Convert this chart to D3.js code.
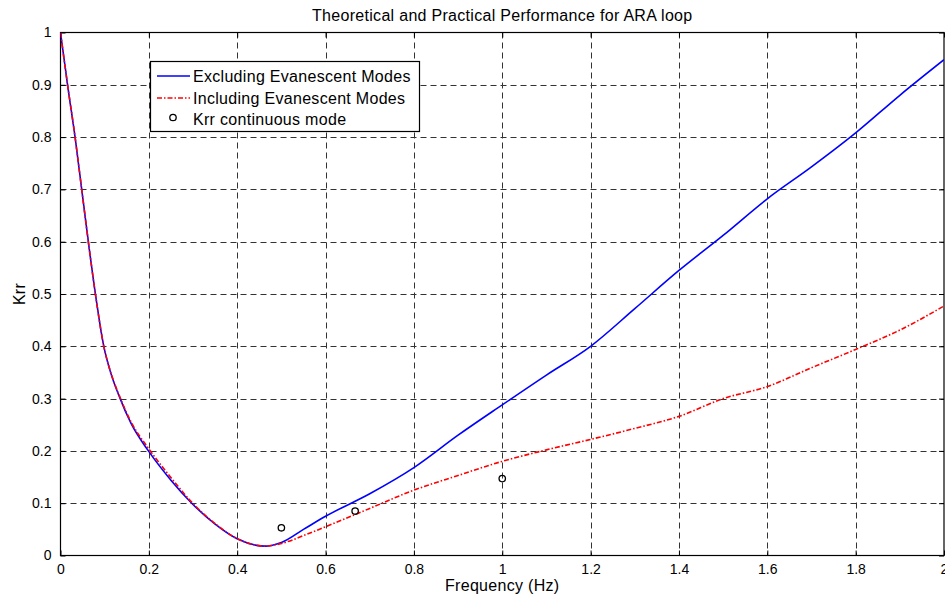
<!DOCTYPE html>
<html>
<head>
<meta charset="utf-8">
<script src="https://cdn.jsdelivr.net/npm/d3@7.9.0/dist/d3.min.js"></script>
<style>
  body { margin: 0; background: #fff; }
  svg { display: block; font-family: "Liberation Sans", Arial, sans-serif; }
  .lbl { font-size: 16px; letter-spacing: 0.3px; }
</style>
</head>
<body>
<svg id="chart" width="945" height="598"></svg>
<script>
// Data
const freqs = [0, 0.016, 0.033, 0.048, 0.063, 0.079, 0.098, 0.112, 0.135, 0.16, 0.199, 0.25, 0.297,
  0.35, 0.4, 0.463, 0.5, 0.55, 0.6, 0.7, 0.8, 0.9, 1.0, 1.1, 1.2, 1.3, 1.4, 1.5,
  1.6, 1.7, 1.8, 1.9, 2.0];
const excluding = [1.0, 0.9, 0.8, 0.7, 0.6, 0.5, 0.4, 0.354, 0.3, 0.252, 0.2, 0.144, 0.1,
  0.06, 0.032, 0.018, 0.025, 0.05, 0.075, 0.118, 0.168, 0.23, 0.288, 0.345, 0.4, 0.472, 0.545, 0.612,
  0.682, 0.743, 0.808, 0.88, 0.948];
const including = [1.0, 0.9, 0.8, 0.7, 0.6, 0.5, 0.4, 0.355, 0.302, 0.255, 0.205, 0.149, 0.102,
  0.061, 0.032, 0.018, 0.023, 0.038, 0.055, 0.09, 0.125, 0.153, 0.18, 0.202, 0.222, 0.243, 0.266, 0.3,
  0.323, 0.359, 0.394, 0.431, 0.477];
const measuredFreq = [0.5, 0.667, 1.0];
const measuredKrr = [0.053, 0.085, 0.147];
const xTicks = [0, 0.2, 0.4, 0.6, 0.8, 1, 1.2, 1.4, 1.6, 1.8, 2];
const yTicks = [0, 0.1, 0.2, 0.3, 0.4, 0.5, 0.6, 0.7, 0.8, 0.9, 1];
const legendLabels = ['Excluding Evanescent Modes', 'Including Evanescent Modes', 'Krr continuous mode'];

const svg = d3.select('#chart');
const pl = 60.5, pr = 944, pt = 32.5, pb = 555.5;

let x = d3.scaleLinear().domain([0, 2]).range([pl, pr]);
let y = d3.scaleLinear().domain([0, 1]).range([pb, pt]);

// grid
const grid = svg.append('g');
xTicks.slice(1, -1).forEach((t) => {
  grid.append('line')
    .attr('x1', Math.round(x(t)) + 0.5).attr('x2', Math.round(x(t)) + 0.5)
    .attr('y1', pt).attr('y2', pb)
    .attr('stroke', '#333').attr('stroke-dasharray', '6,4');
});
yTicks.slice(1, -1).forEach((t) => {
  grid.append('line')
    .attr('y1', Math.round(y(t)) + 0.5).attr('y2', Math.round(y(t)) + 0.5)
    .attr('x1', pl).attr('x2', pr)
    .attr('stroke', '#333').attr('stroke-dasharray', '6,4');
});

// axes
const fmt = d3.format('~g');
function styleAxis(g) {
  g.select('.domain').remove();
  g.selectAll('.tick line').attr('stroke', '#000');
  g.selectAll('.tick text').attr('fill', '#000').attr('font-size', 14)
    .attr('font-family', '"Liberation Sans", Arial, sans-serif');
}
svg.append('g').attr('transform', `translate(0,${pb})`)
  .call(d3.axisBottom(x).tickValues(xTicks).tickFormat(fmt).tickSizeInner(-5).tickPadding(9))
  .call(styleAxis);
svg.append('g').attr('transform', `translate(0,${pt})`)
  .call(d3.axisTop(x).tickValues(xTicks).tickFormat('').tickSizeInner(-5))
  .call(styleAxis);
svg.append('g').attr('transform', `translate(${pl},0)`)
  .call(d3.axisLeft(y).tickValues(yTicks).tickFormat(fmt).tickSizeInner(-5).tickPadding(9))
  .call(styleAxis);
svg.append('g').attr('transform', `translate(${pr},0)`)
  .call(d3.axisRight(y).tickValues(yTicks).tickFormat('').tickSizeInner(-5))
  .call(styleAxis);

svg.append('rect')
  .attr('x', pl).attr('y', pt)
  .attr('width', pr - pl).attr('height', pb - pt)
  .attr('fill', 'none').attr('stroke', '#000').attr('stroke-width', 1.2);

// curves
const clip = svg.append('clipPath').attr('id', 'plotclip');
clip.append('rect').attr('x', pl).attr('y', pt).attr('width', pr - pl).attr('height', pb - pt);

let line = d3.line().curve(d3.curveMonotoneX);
let blueData = freqs.map((f, i) => [x(f), y(excluding[i])]);
let redData = freqs.map((f, i) => [x(f), y(including[i])]);

svg.append('path').attr('d', line(blueData))
  .attr('fill', 'none').attr('stroke', '#0000ff').attr('stroke-width', 1.6)
  .attr('clip-path', 'url(#plotclip)');
svg.append('path').attr('d', line(redData))
  .attr('fill', 'none').attr('stroke', '#ff0000').attr('stroke-width', 1.6)
  .attr('stroke-dasharray', '5,2,1.5,2')
  .attr('clip-path', 'url(#plotclip)');

measuredFreq.forEach((f, i) => {
  svg.append('circle')
    .attr('cx', x(f)).attr('cy', y(measuredKrr[i])).attr('r', 3.2)
    .attr('fill', 'none').attr('stroke', '#000').attr('stroke-width', 1.3);
});

// legend
const lg = svg.append('g');
lg.append('rect').attr('x', 150.5).attr('y', 61.5).attr('width', 269).attr('height', 70)
  .attr('fill', '#fff').attr('stroke', '#000').attr('stroke-width', 1.2);
const rowsY = [76, 98, 119];
lg.append('line').attr('x1', 157).attr('x2', 190).attr('y1', rowsY[0]).attr('y2', rowsY[0])
  .attr('stroke', '#0000ff').attr('stroke-width', 1.6);
lg.append('line').attr('x1', 157).attr('x2', 190).attr('y1', rowsY[1]).attr('y2', rowsY[1])
  .attr('stroke', '#ff0000').attr('stroke-width', 1.6).attr('stroke-dasharray', '5,2,1.5,2');
lg.append('circle').attr('cx', 173).attr('cy', rowsY[2] - 1.5).attr('r', 3.2)
  .attr('fill', 'none').attr('stroke', '#000').attr('stroke-width', 1.3);
legendLabels.forEach((t, i) => {
  lg.append('text').attr('class', 'lbl').attr('x', 193).attr('y', rowsY[i] + 5.5).text(t);
});

// titles
svg.append('text').attr('class', 'lbl').attr('x', (pl + pr) / 2).attr('y', 21)
  .attr('text-anchor', 'middle')
  .text('Theoretical and Practical Performance for ARA loop');
svg.append('text').attr('class', 'lbl').attr('x', (pl + pr) / 2).attr('y', 591)
  .attr('text-anchor', 'middle')
  .text('Frequency (Hz)');
svg.append('text').attr('class', 'lbl').attr('transform', 'translate(25,294) rotate(-90)')
  .attr('text-anchor', 'middle')
  .text('Krr');
</script>
</body>
</html>
